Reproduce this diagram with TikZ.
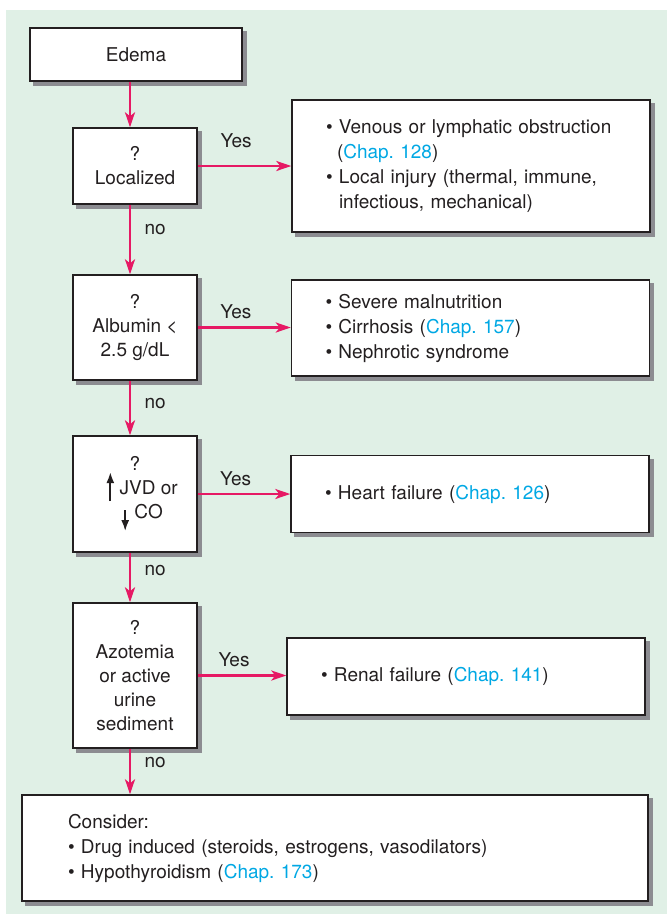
\documentclass[tikz,border=0pt]{standalone}
\usepackage{fontspec}
\setmainfont{TeX Gyre Heros}
\usetikzlibrary{arrows.meta,backgrounds}

\definecolor{bggreen}{RGB}{224,240,230}
\definecolor{flowpink}{RGB}{230,25,100}
\definecolor{chapblue}{RGB}{0,168,228}
\definecolor{inkgray}{RGB}{35,31,32}
\definecolor{shadegray}{RGB}{140,140,145}

\newcommand{\chap}[1]{\textcolor{chapblue}{Chap.~#1}}
\newcommand{\jvdup}{\tikz[baseline=0pt]\draw[-{Latex[length=11pt,width=8pt]},line width=1.8pt] (0pt,-7pt) -- (0pt,22pt);}
\newcommand{\jvddown}{\tikz[baseline=0pt]\draw[-{Latex[length=11pt,width=8pt]},line width=1.8pt] (0pt,8pt) -- (0pt,-13pt);}

\tikzset{
  box/.style={draw=inkgray, line width=1.4pt, fill=white, text=inkgray,
    font=\fontsize{19}{24}\selectfont},
  ask/.style={box, minimum width=124pt, align=center},
  result/.style={box, text width=290pt, inner xsep=34pt, align=left,
    font=\fontsize{19}{25}\selectfont},
  flow/.style={draw=flowpink, line width=2.6pt, -{Stealth[length=15pt,width=10pt,inset=4pt]}},
  lab/.style={text=inkgray, font=\fontsize{19}{24}\selectfont}
}

\begin{document}
\begin{tikzpicture}[x=1pt,y=-1pt]
  \useasboundingbox (0,0) rectangle (667,914);

  % questions
  \node[box, minimum width=212pt, minimum height=53pt] (edema) at (136,54.5) {Edema};
  \node[ask, minimum height=76pt] (local) at (135,166) {?\\Localized};
  \node[ask, minimum height=105pt] (album) at (135,327.5) {?\\Albumin <\\2.5 g/dL};
  \node[ask, minimum height=116pt] (jvd) at (135,494)
    {?\\\hspace*{14pt}\jvdup\ JVD or\\\hspace*{14pt}\jvddown\ CO};
  \node[ask, minimum height=145pt] (azot) at (135,675.5)
    {?\\Azotemia\\or active\\urine\\sediment};

  % answers
  \node[result, minimum height=132pt] (res1) at (471,166)
    {\textbullet\ Venous or lymphatic obstruction\\
     \hspace*{11pt}(\chap{128})\\
     \textbullet\ Local injury (thermal, immune,\\
     \hspace*{13pt}infectious, mechanical)};
  \node[result, minimum height=96pt] (res2) at (470.5,328)
    {\textbullet\ Severe malnutrition\\
     \textbullet\ Cirrhosis (\chap{157})\\
     \textbullet\ Nephrotic syndrome};
  \node[result, minimum height=77pt] (res3) at (470,494)
    {\textbullet\ Heart failure (\chap{126})};
  \node[result, minimum height=77pt] (res4) at (466,676.5)
    {\textbullet\ Renal failure (\chap{141})};
  \node[box, text width=534pt, inner xsep=46pt, align=left, minimum height=106pt,
    font=\fontsize{19}{25}\selectfont] (cons) at (335,848)
    {Consider:\\
     \textbullet\ Drug induced (steroids, estrogens, vasodilators)\\
     \textbullet\ Hypothyroidism (\chap{173})};

  % no branch
  \draw[flow] ([xshift=-6pt]edema.south) -- ([xshift=-5pt]local.north);
  \draw[flow] ([xshift=-5pt]local.south) -- node[lab, right=10pt, pos=0.35] {no} ([xshift=-5pt]album.north);
  \draw[flow] ([xshift=-5pt]album.south) -- node[lab, right=10pt, pos=0.41] {no} ([xshift=-5pt]jvd.north);
  \draw[flow] ([xshift=-5pt]jvd.south) -- node[lab, right=10pt, pos=0.35] {no} ([xshift=-5pt]azot.north);
  \draw[flow] ([xshift=-5pt]azot.south) -- node[lab, right=10pt, pos=0.3] {no} ([xshift=-5pt]azot.south |- cons.north);

  % yes branch
  \draw[flow] (local.east) -- node[lab, above=14pt, pos=0.41] {Yes} (local.east -| res1.west);
  \draw[flow] (album.east) -- node[lab, above=4pt, pos=0.41] {Yes} (album.east -| res2.west);
  \draw[flow] (jvd.east) -- node[lab, above=4pt, pos=0.41] {Yes} (jvd.east -| res3.west);
  \draw[flow] (azot.east) -- node[lab, above=4pt, pos=0.41] {Yes} (azot.east -| res4.west);

  % panel and box shadows
  \begin{scope}[on background layer]
    \fill[bggreen] (6,10) rectangle (667,914);
    \foreach \n in {edema,local,album,jvd,azot,res1,res2,res3,res4,cons}
      \fill[shadegray] ([xshift=4pt,yshift=-4pt]\n.south west) rectangle ([xshift=4pt,yshift=-4pt]\n.north east);
  \end{scope}
\end{tikzpicture}
\end{document}
